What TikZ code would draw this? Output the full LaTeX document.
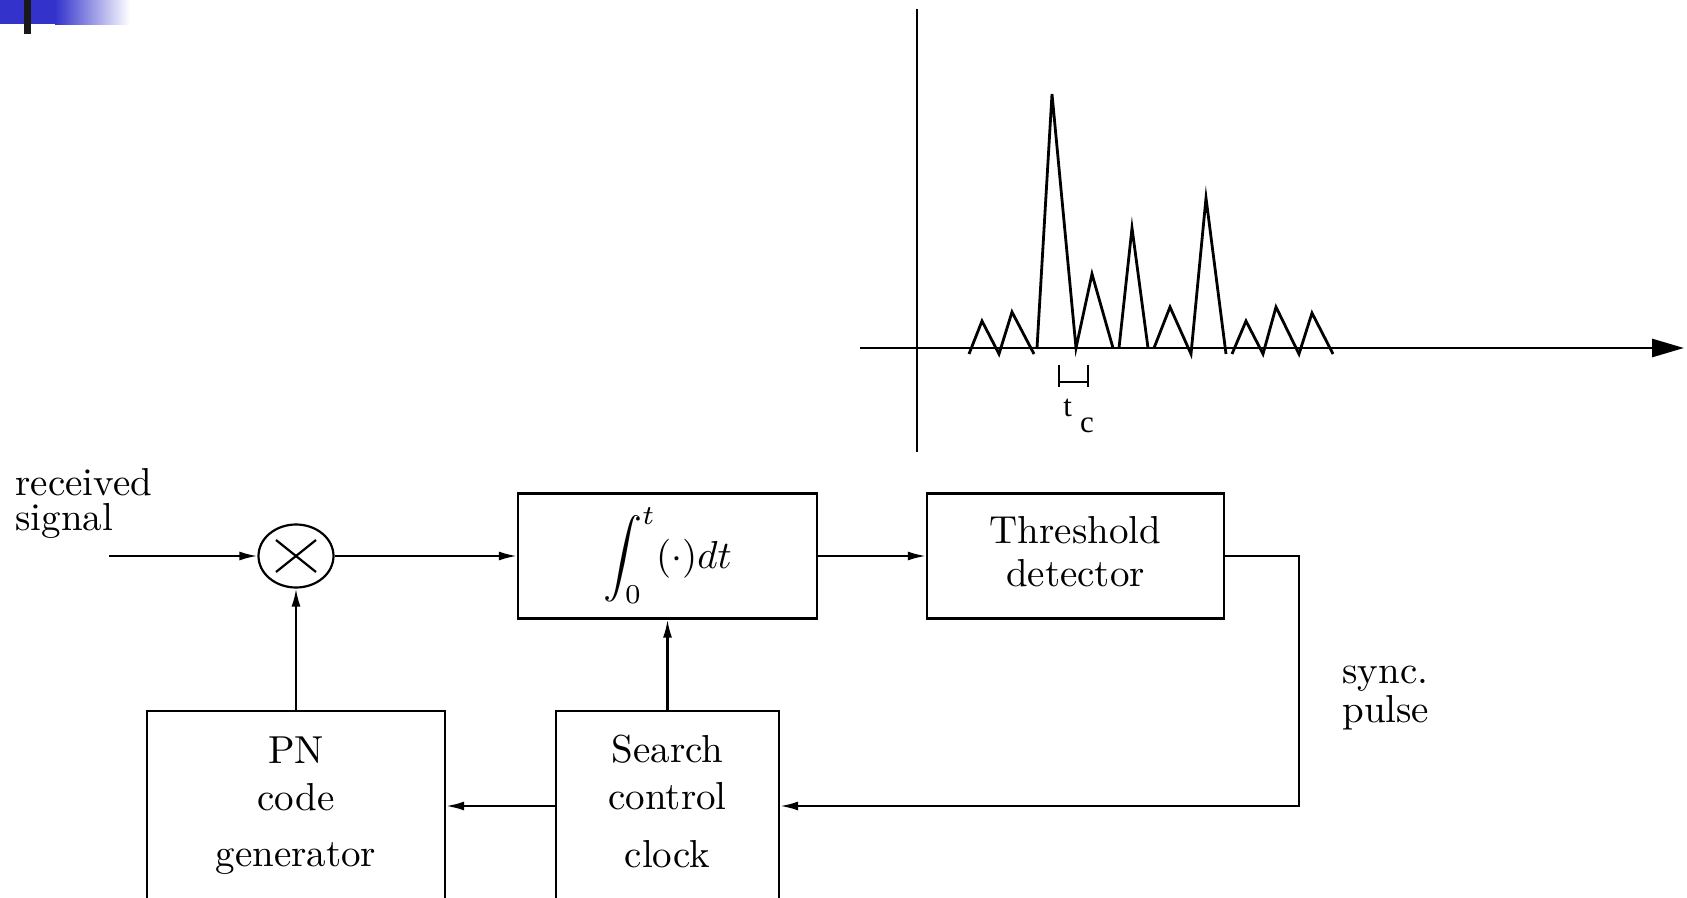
\documentclass[tikz,border=0pt]{standalone}
\usepackage{amsmath}
\usepackage{graphicx}
\usepackage{fontspec}
\newfontfamily\tcfont{Liberation Serif}
\usepackage{tikz}
\usetikzlibrary{arrows.meta,shapes.geometric,calc}
\definecolor{bannerblue}{HTML}{3333CC}
\newcommand{\cmtext}[2][c]{\scalebox{1.95}{\begin{tabular}{@{}#1@{}}#2\end{tabular}}}
\tikzset{
  block/.style={draw, line width=1.1pt, rectangle, inner sep=0pt},
  conn/.style={line width=1.1pt},
  arr/.style={conn, -{Latex[length=9pt,width=4.5pt]}},
  lbl/.style={inner sep=0pt},
  pulse/.style={line width=1.4pt, line join=miter},
}

\begin{document}
\begin{tikzpicture}[x=0.5pt, y=-0.5pt]
  \useasboundingbox (0,0) rectangle (1687,898);
  \clip (0,0) rectangle (1687,898);
  % corner banner
  \fill[bannerblue] (0,0) rectangle (55,24);
  \shade[left color=bannerblue, right color=white] (55,0) rectangle (130,25);
  \fill[black!90] (24,0) rectangle (31,34);

  % correlation output
  \draw[pulse] (917,9) -- (917,452);
  \draw[pulse, -{Triangle[length=16pt,width=9pt]}] (860,348) -- (1684,348);
  \draw[pulse] (969,354) -- (982,321) -- (999,354) -- (1012,312) -- (1034,354);
  \draw[pulse] (1037,348) -- (1052,94) -- (1076,348) -- (1092,274) -- (1113,348);
  \draw[pulse] (1119,348) -- (1132,228) -- (1148,348);
  \draw[pulse] (1154,348) -- (1170,307) -- (1191,354) -- (1206,198) -- (1226,354);
  \draw[pulse] (1232,354) -- (1246,321) -- (1263,354) -- (1276,307) -- (1299,354)
    -- (1312,313) -- (1333,354);
  \draw[line width=1.2pt] (1059,365) -- (1059,387) (1059,382) -- (1088,382)
    (1088,365) -- (1088,387);
  \node[font=\tcfont\fontsize{15.5}{18}\selectfont, inner sep=0pt, anchor=base west]
       (tclbl) at (1063,417) {t\hspace{4pt}\raisebox{-8pt}{c}};

  % acquisition loop
  \node[lbl, anchor=north west] (rxlbl) at (15,462) {\cmtext[l]{received\\[-3pt]signal}};
  \node[ellipse, draw, conn, minimum width=37.5pt, minimum height=31.5pt,
        inner sep=0pt] (mult) at (296,556) {};
  \draw[conn] ($(mult.center)+(-20,-16)$) -- ($(mult.center)+(20,16)$);
  \draw[conn] ($(mult.center)+(-20,16)$) -- ($(mult.center)+(20,-16)$);
  \node[block, minimum width=149.5pt, minimum height=62.5pt] (integ)
       at (667.5,556) {\cmtext{$\displaystyle\int_0^t(\cdot)dt$}};
  \node[block, minimum width=148.5pt, minimum height=62.5pt] (thresh)
       at (1075.5,556) {\cmtext{Threshold\\[-1pt]detector}};
  \node[block, minimum width=111.5pt, minimum height=95pt] (search)
       at (667.5,806) {\cmtext{Search\\control\\[2.9pt]clock}};
  \node[block, minimum width=149pt, minimum height=95pt] (pngen)
       at (296,806) {\cmtext{PN\\code\\[2.4pt]generator}};
  \node[lbl, anchor=north west] (synclbl) at (1342,650) {\cmtext[l]{sync.\\[-2pt]pulse}};

  \coordinate (rxin) at (109,556);
  \coordinate (syncturn) at (1299,806);
  \draw[arr] (rxin) -- (mult);
  \draw[arr] (mult) -- (integ);
  \draw[arr] (integ) -- (thresh);
  \draw[arr] (thresh.east) -| (syncturn) -- (search.east);
  \draw[arr] (search) -- (pngen);
  \draw[arr] (pngen) -- (mult);
  \draw[arr] (search) -- (integ);
\end{tikzpicture}
\end{document}
